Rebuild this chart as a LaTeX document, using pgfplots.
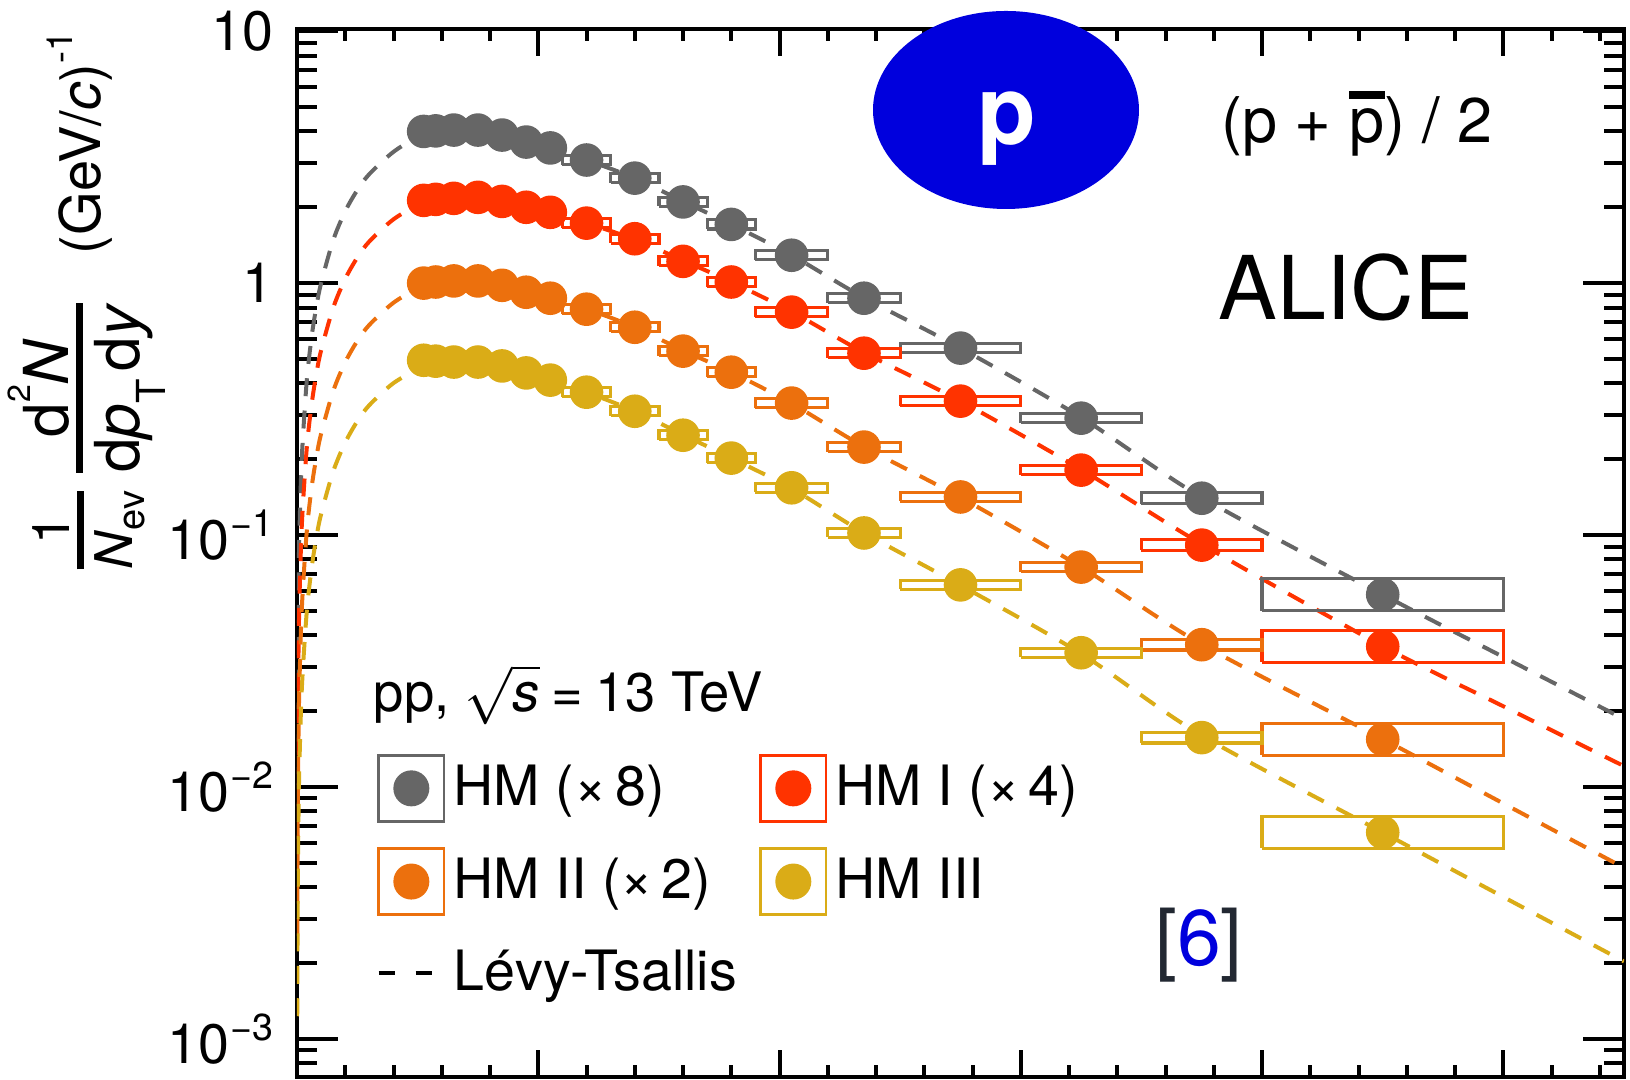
\documentclass[border=0pt]{standalone}
\usepackage{fontspec}
\setmainfont{TeX Gyre Heros}
\usepackage{pgfplots}
\pgfplotsset{compat=1.18}

\definecolor{hmgray}{RGB}{102,102,102}
\definecolor{hmred}{RGB}{255,51,0}
\definecolor{hmorange}{RGB}{236,112,13}
\definecolor{hmyellow}{RGB}{218,172,23}
\definecolor{pblue}{RGB}{0,0,221}
\definecolor{navy}{RGB}{34,40,50}

\newcommand\fs[1]{\fontsize{#1}{#1}\selectfont}
\newcommand\PX[2]{({(#1-297)*0.25pt},{(1077-#2)*0.25pt})}
\newcommand\tenexp[1]{10\kern0.2pt\raisebox{5.75pt}{\fs{9.4}#1}}
% fraction: #1 numerator, #2 denominator, #3 kern above bar, #4 kern below bar
\newcommand\sfrac[4]{\ensuremath{\vcenter{\hbox{\setbox0\hbox{#1}\setbox2\hbox{#2}%
 \dimen0=\wd0 \ifdim\wd2>\dimen0 \dimen0=\wd2\fi
 \vbox{\hbox to \dimen0{\hss\box0\hss}\kern#3\hrule height 1.8pt\kern#4\hbox to \dimen0{\hss\box2\hss}}}}}}

\pgfplotsset{
 legbox/.style={legend image code/.code={
   \draw[line width=0.7pt] (0pt,-8.3pt) rectangle (16.3pt,8.3pt);
   \fill (8.15pt,0pt) circle (4.3pt);}},
 legdash/.style={legend image code/.code={
   \path[draw=none, fill=none] (0pt,-8.3pt) rectangle (16.3pt,8.3pt);
   \draw[black, line width=1pt, dash pattern=on 4pt off 5.2pt] (0pt,0pt) -- (13.5pt,0pt);}},
 fitline/.style={line width=1pt, dash pattern=on 4.5pt off 3.6pt, smooth, forget plot},
 sysbox/.style={line width=0.8pt, unbounded coords=jump, forget plot},
 pts/.style={color=#1, only marks, mark=*, mark size=4.0pt, mark options={solid, draw=#1, fill=#1, line width=0.4pt}, forget plot},
}

\begin{document}
\begin{tikzpicture}
\useasboundingbox (-74.25pt,-0.75pt) rectangle (333.25pt,269.25pt);
\begin{axis}[
  at={(0pt,0pt)}, anchor=south west,
  scale only axis, width=331.75pt, height=262pt,
  xmin=0, xmax=5.5,
  ymode=log, ymin=7.06e-4, ymax=10.2,
  xtick={0,1,2,3,4,5}, xticklabels={},
  minor xtick={0.2,0.4,0.6,0.8,1.2,1.4,1.6,1.8,2.2,2.4,2.6,2.8,3.2,3.4,3.6,3.8,4.2,4.4,4.6,4.8,5.2,5.4},
  ytick={1e-3,1e-2,1e-1,1,10},
  yticklabels={\tenexp{−3},\tenexp{−2},\tenexp{−1},1,10},
  minor ytick={8e-4,9e-4,2e-3,3e-3,4e-3,5e-3,6e-3,7e-3,8e-3,9e-3,2e-2,3e-2,4e-2,5e-2,6e-2,7e-2,8e-2,9e-2,0.2,0.3,0.4,0.5,0.6,0.7,0.8,0.9,2,3,4,5,6,7,8,9},
  tick align=inside, xtick pos=both, ytick pos=both, yticklabel pos=left,
  axis line style={line width=1.1pt},
  every tick/.style={black, line width=1pt},
  major x tick style={/pgfplots/major tick length=6.75pt},
  minor x tick style={/pgfplots/minor tick length=3pt},
  major y tick style={/pgfplots/major tick length=10.25pt},
  minor y tick style={/pgfplots/minor tick length=5pt},
  yticklabel style={font=\fs{13.9}, inner sep=0pt, xshift=-5.75pt},
  legend columns=2,
  legend cell align=left,
  legend style={at={(axis description cs:0.0595,0.3092)}, anchor=north west,
    draw=none, fill=none, inner sep=0pt, font=\fs{13.9}, row sep=6pt,
    nodes={inner sep=0pt},
    /tikz/every odd column/.style={column sep=2.1pt},
    /tikz/every even column/.style={column sep=5.6pt}},
]
% ---------------- Levy-Tsallis fits ----------------
\addplot[hmgray, fitline] table {
x y
0.001 0.0102
0.003 0.0305
0.006 0.0609
0.01 0.1015
0.02 0.203
0.04 0.405
0.06 0.606
0.08 0.805
0.1 1.0
0.15 1.48
0.2 1.93
0.25 2.34
0.3 2.71
0.4 3.32
0.5 3.78
0.6 3.98
0.7 4.05
0.8 3.99
0.95 3.66
1.05 3.44
1.2 3.08
1.4 2.61
1.6 2.11
1.8 1.71
2.05 1.29
2.35 0.875
2.75 0.552
3.25 0.293
3.75 0.141
4.5 0.058
5.0 0.0328
5.5 0.0186
};
\addplot[hmred, fitline] table {
x y
0.001 0.00548
0.003 0.0165
0.006 0.0329
0.01 0.0548
0.02 0.1096
0.04 0.2187
0.06 0.327
0.08 0.435
0.1 0.541
0.15 0.798
0.2 1.04
0.25 1.263
0.3 1.464
0.4 1.792
0.5 2.03
0.6 2.14
0.7 2.19
0.8 2.16
0.95 2.02
1.05 1.91
1.2 1.73
1.4 1.49
1.6 1.23
1.8 1.01
2.05 0.77
2.35 0.53
2.75 0.34
3.25 0.182
3.75 0.092
4.5 0.0362
5.0 0.0209
5.5 0.0121
};
\addplot[hmorange, fitline] table {
x y
0.001 0.00256
0.003 0.00769
0.006 0.01535
0.01 0.0256
0.02 0.0512
0.04 0.102
0.06 0.153
0.08 0.203
0.1 0.2525
0.15 0.3725
0.2 0.4855
0.25 0.5895
0.3 0.683
0.4 0.836
0.5 0.947
0.6 1.0
0.7 1.02
0.8 1.005
0.95 0.925
1.05 0.872
1.2 0.79
1.4 0.668
1.6 0.54
1.8 0.443
2.05 0.333
2.35 0.224
2.75 0.141
3.25 0.0746
3.75 0.0368
4.5 0.0155
5.0 0.0086
5.5 0.00478
};
\addplot[hmyellow, fitline] table {
x y
0.001 0.00123
0.003 0.00369
0.006 0.00737
0.01 0.01228
0.02 0.02456
0.04 0.049
0.06 0.0733
0.08 0.0974
0.1 0.1212
0.15 0.1788
0.2 0.233
0.25 0.283
0.3 0.328
0.4 0.401
0.5 0.452
0.6 0.478
0.7 0.488
0.8 0.480
0.95 0.442
1.05 0.413
1.2 0.369
1.4 0.310
1.6 0.250
1.8 0.202
2.05 0.153
2.35 0.102
2.75 0.0632
3.25 0.0338
3.75 0.0160
4.5 0.0066
5.0 0.00366
5.5 0.00203
};
% ---------------- systematic boxes ----------------
\addplot[hmgray, sysbox] table {
x y
1.1 2.956
1.3 2.956
1.3 3.209
1.1 3.209
1.1 2.956
nan nan
1.3 2.505
1.5 2.505
1.5 2.720
1.3 2.720
1.3 2.505
nan nan
1.5 2.015
1.7 2.015
1.7 2.188
1.5 2.188
1.5 2.015
nan nan
1.7 1.641
1.9 1.641
1.9 1.782
1.7 1.782
1.7 1.641
nan nan
1.9 1.238
2.2 1.238
2.2 1.344
1.9 1.344
1.9 1.238
nan nan
2.2 0.8359
2.5 0.8359
2.5 0.9076
2.2 0.9076
2.2 0.8359
nan nan
2.5 0.5298
3.0 0.5298
3.0 0.5752
2.5 0.5752
2.5 0.5298
nan nan
3.0 0.2793
3.5 0.2793
3.5 0.3032
3.0 0.3032
3.0 0.2793
nan nan
3.5 0.1333
4.0 0.1333
4.0 0.147
3.5 0.147
3.5 0.1333
nan nan
4.0 0.05013
5.0 0.05013
5.0 0.06711
4.0 0.06711
4.0 0.05013
};
\addplot[hmred, sysbox] table {
x y
1.1 1.660
1.3 1.660
1.3 1.803
1.1 1.803
1.1 1.660
nan nan
1.3 1.440
1.5 1.440
1.5 1.563
1.3 1.563
1.3 1.440
nan nan
1.5 1.171
1.7 1.171
1.7 1.271
1.5 1.271
1.5 1.171
nan nan
1.7 0.9693
1.9 0.9693
1.9 1.052
1.7 1.052
1.7 0.9693
nan nan
1.9 0.7361
2.2 0.7361
2.2 0.7992
1.9 0.7992
1.9 0.7361
nan nan
2.2 0.5058
2.5 0.5058
2.5 0.5491
2.2 0.5491
2.2 0.5058
nan nan
2.5 0.3263
3.0 0.3263
3.0 0.3543
2.5 0.3543
2.5 0.3263
nan nan
3.0 0.1737
3.5 0.1737
3.5 0.1886
3.0 0.1886
3.0 0.1737
nan nan
3.5 0.08686
4.0 0.08686
4.0 0.09576
3.5 0.09576
3.5 0.08686
nan nan
4.0 0.0312
5.0 0.0312
5.0 0.04177
4.0 0.04177
4.0 0.0312
};
\addplot[hmorange, sysbox] table {
x y
1.1 0.7562
1.3 0.7562
1.3 0.8211
1.1 0.8211
1.1 0.7562
nan nan
1.3 0.6411
1.5 0.6411
1.5 0.6961
1.3 0.6961
1.3 0.6411
nan nan
1.5 0.5154
1.7 0.5154
1.7 0.5596
1.5 0.5596
1.5 0.5154
nan nan
1.7 0.4251
1.9 0.4251
1.9 0.4616
1.7 0.4616
1.7 0.4251
nan nan
1.9 0.3205
2.2 0.3205
2.2 0.3480
1.9 0.3480
1.9 0.3205
nan nan
2.2 0.2144
2.5 0.2144
2.5 0.2328
2.2 0.2328
2.2 0.2144
nan nan
2.5 0.1359
3.0 0.1359
3.0 0.1475
2.5 0.1475
2.5 0.1359
nan nan
3.0 0.07159
3.5 0.07159
3.5 0.07773
3.0 0.07773
3.0 0.07159
nan nan
3.5 0.03495
4.0 0.03495
4.0 0.03854
3.5 0.03854
3.5 0.03495
nan nan
4.0 0.01336
5.0 0.01336
5.0 0.01789
4.0 0.01789
4.0 0.01336
};
\addplot[hmyellow, sysbox] table {
x y
1.1 0.3541
1.3 0.3541
1.3 0.3845
1.1 0.3845
1.1 0.3541
nan nan
1.3 0.2975
1.5 0.2975
1.5 0.3230
1.3 0.3230
1.3 0.2975
nan nan
1.5 0.2390
1.7 0.2390
1.7 0.2595
1.5 0.2595
1.5 0.2390
nan nan
1.7 0.1939
1.9 0.1939
1.9 0.2105
1.7 0.2105
1.7 0.1939
nan nan
1.9 0.1478
2.2 0.1478
2.2 0.1605
1.9 0.1605
1.9 0.1478
nan nan
2.2 0.09779
2.5 0.09779
2.5 0.1062
2.2 0.1062
2.2 0.09779
nan nan
2.5 0.06084
3.0 0.06084
3.0 0.06606
2.5 0.06606
2.5 0.06084
nan nan
3.0 0.03273
3.5 0.03273
3.5 0.03553
3.0 0.03553
3.0 0.03273
nan nan
3.5 0.01495
4.0 0.01495
4.0 0.01649
3.5 0.01649
3.5 0.01495
nan nan
4.0 0.005704
5.0 0.005704
5.0 0.007636
4.0 0.007636
4.0 0.005704
};
% ---------------- data points ----------------
\addplot[pts=hmgray] table {
x y
0.525 4.00
0.575 4.02
0.65 4.05
0.75 4.05
0.85 3.87
0.95 3.63
1.05 3.44
1.2 3.08
1.4 2.61
1.6 2.10
1.8 1.71
2.05 1.29
2.35 0.871
2.75 0.552
3.25 0.291
3.75 0.140
4.5 0.058
};
\addplot[pts=hmred] table {
x y
0.525 2.13
0.575 2.15
0.65 2.17
0.75 2.19
0.85 2.11
0.95 2.00
1.05 1.91
1.2 1.73
1.4 1.50
1.6 1.22
1.8 1.01
2.05 0.767
2.35 0.527
2.75 0.340
3.25 0.181
3.75 0.0912
4.5 0.0361
};
\addplot[pts=hmorange] table {
x y
0.525 1.00
0.575 1.01
0.65 1.02
0.75 1.02
0.85 0.98
0.95 0.92
1.05 0.871
1.2 0.788
1.4 0.668
1.6 0.537
1.8 0.443
2.05 0.334
2.35 0.2234
2.75 0.1416
3.25 0.0746
3.75 0.0367
4.5 0.01546
};
\addplot[pts=hmyellow] table {
x y
0.525 0.494
0.575 0.490
0.65 0.486
0.75 0.486
0.85 0.469
0.95 0.440
1.05 0.412
1.2 0.369
1.4 0.310
1.6 0.249
1.8 0.202
2.05 0.154
2.35 0.1019
2.75 0.0634
3.25 0.0341
3.75 0.0157
4.5 0.0066
};
% ---------------- legend ----------------
\addlegendimage{legbox, hmgray}
\addlegendentry{HM (×\hspace{2.2pt}8)}
\addlegendimage{legbox, hmred}
\addlegendentry{HM I (×\hspace{2.2pt}4)}
\addlegendimage{legbox, hmorange}
\addlegendentry{HM II (×\hspace{2.2pt}2)}
\addlegendimage{legbox, hmyellow}
\addlegendentry{HM III}
\addlegendimage{legdash}
\addlegendentry{Lévy-Tsallis}
\end{axis}

% y-axis title (three pieces)
\node[rotate=90, anchor=base, inner sep=0pt] at \PX{101}{530} {\fs{13}%
 \sfrac{1}{\textit{N}\raisebox{-3pt}{\fs{9.5}ev}}{1.7pt}{2.7pt}};
\node[rotate=90, anchor=base, inner sep=0pt] at \PX{101}{388} {\fs{15.5}%
 \sfrac{d\raisebox{9.5pt}{\fs{8}2}\textit{N}}{d\textit{p}\raisebox{-6.5pt}{\fs{10}T}\hspace{2pt}d\textit{y}}{1.7pt}{2.7pt}};
\node[rotate=90, anchor=base, inner sep=0pt] at \PX{101}{143} {\fs{14}(GeV/\textit{c})\raisebox{7pt}{\fs{9}-1}};

% annotations
\fill[pblue] \PX{1006}{110} ellipse [x radius=33.25pt, y radius=24.75pt];
\node[anchor=base, inner sep=0pt, text=white, font=\fs{24}\bfseries] at \PX{1007}{145} {p};
\node[anchor=base, inner sep=0pt, font=\fs{15.75}] at \PX{1357}{143} {(p + \rlap{\rule[11pt]{9pt}{2.1pt}}p) / 2};
\node[anchor=base, inner sep=0pt, font=\fs{22}] at \PX{1346}{320} {ALICE};
\node[anchor=base west, inner sep=0pt, font=\fs{13.6}] at \PX{373}{712} {pp, $\sqrt{\mbox{\textit{s}}}$\hspace{3pt}=\hspace{3pt}13 TeV};
\node[anchor=base, inner sep=0pt, font=\fs{19.7}] at \PX{1199}{966} {\textcolor{navy}{[}\textcolor{pblue}{6}\textcolor{navy}{]}};
\end{tikzpicture}
\end{document}
